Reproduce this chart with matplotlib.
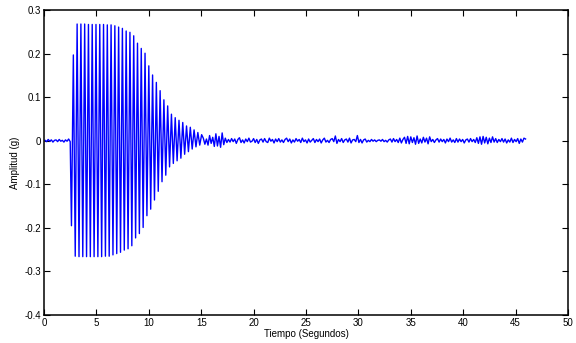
import numpy as np
import matplotlib
matplotlib.use("Agg")
import matplotlib.pyplot as plt

plt.rcParams['font.family'] = ['Liberation Sans', 'DejaVu Sans']

# small noise before the excitation (units of 0.001 g), one value every 0.15 s from t = 0.1
pre_start = 0.1
noise_dt = 0.15
pre_noise = [1, -2, 3, -1, 2, -3, 1, 2, -2, 3, -1, 1, -3, 2, -1, 4, -2]

# oscillation: one negative and one positive extreme per cycle (g)
cycle_start = 2.62
cycle_period = 0.36
neg_peaks = [-0.195, -0.265, -0.266, -0.266, -0.266, -0.266, -0.266, -0.266, -0.266,
             -0.265, -0.265, -0.262, -0.259, -0.256, -0.251, -0.248, -0.241, -0.223,
             -0.213, -0.199, -0.172, -0.157, -0.136, -0.116, -0.094, -0.079, -0.060,
             -0.052, -0.046, -0.040, -0.031, -0.025, -0.019, -0.014, -0.010]
pos_peaks = [0.197, 0.268, 0.268, 0.268, 0.267, 0.267, 0.267, 0.267, 0.267, 0.266,
             0.266, 0.264, 0.261, 0.258, 0.252, 0.249, 0.241, 0.224, 0.212, 0.201,
             0.172, 0.151, 0.134, 0.115, 0.094, 0.080, 0.061, 0.053, 0.047, 0.042,
             0.034, 0.031, 0.025, 0.019, 0.014]

# residual noise after the free vibration (units of 0.001 g), from t = 15.2
post_start = 15.2
post_noise = [6, -8, 4, -10, 12, -6, 8, -13, 16, -12, 10, -15, 18, -9, 6, -4, 3,
              -3, 5, -2, 4, -6, 3, 7, -4, 2, -5, 4, -2, 6, -3, -1, 5, -4, 3, -6, 2, 4,
              -3, 5, -2, -4, 6, -1, 3, -5, 4, -2, 5, -3, 2,
              -4, 3, 6, -2, 4, -5, 2, -3, 5, -1, 3, -4, 6, -2, 2, -5, 4, -3, 1, 5, -4,
              3, -2, 4, -5, 2, 6, -3, 1, -4, 3, 5, -2, 11,
              -6, 3, -2, 5, -4, 2, 4, -3, 6, -5, 2, 3, -2, 12, -4, 3, -5, 2, 4, -3, 1,
              -2, 3, -1, 2, -2, 1, 2, -1, 3, -2, 1, -3, 2,
              4, -3, 5, -2, 3, -4, 6, -5, 3, 8, -6, 10, -7, 9, -4, 7, -8, 11, -6, 4,
              -5, 8, -3, 6, -7, 9, -2, 3, -4, 2, 5, -3, 4, -2,
              3, -5, 4, -2, 6, -3, 2, -4, 5, -3, 4, -2, 3, -5, 2, 4, -3, 5, -2, 3, -4,
              7, -6, 9, -8, 10, -5, 8, -7, 6, -4, 9, -3, 5,
              -4, 3, -2, 5, -3, 4, -5, 2, -3, 6, -4, 3, -2, 5, -6, 4, -3, 6, 4]

x_ticks = [0, 5, 10, 15, 20, 25, 30, 35, 40, 45, 50]
y_ticks = [-0.4, -0.3, -0.2, -0.1, 0, 0.1, 0.2, 0.3]

# build the trace
t_pre = pre_start + noise_dt * np.arange(len(pre_noise))
a_pre = np.array(pre_noise) * 0.001

k = np.arange(len(neg_peaks))
t_osc = np.column_stack([cycle_start + cycle_period * k,
                         cycle_start + cycle_period * (k + 0.5)]).ravel()
a_osc = np.column_stack([neg_peaks, pos_peaks]).ravel()

t_post = post_start + noise_dt * np.arange(len(post_noise))
a_post = np.array(post_noise) * 0.001

t = np.concatenate([t_pre, t_osc, t_post])
a = np.concatenate([a_pre, a_osc, a_post])

fig = plt.figure(figsize=(5.76, 3.43), dpi=100)
ax = fig.add_axes([0.0764, 0.0816, 0.9097, 0.889])
ax.plot(t, a, color='#0000ff', linewidth=1.0)

ax.set_xlim(0, 50)
ax.set_ylim(-0.4, 0.3)
ax.set_xticks(x_ticks)
ax.set_xticklabels([str(v) for v in x_ticks])
ax.set_yticks(y_ticks)
ax.set_yticklabels(['-0.4', '-0.3', '-0.2', '-0.1', '0', '0.1', '0.2', '0.3'])
ax.tick_params(direction='in', length=4, width=0.8, top=True, right=True,
               labelsize=7, pad=2)
for s in ax.spines.values():
    s.set_linewidth(1.1)

ax.set_xlabel('Tiempo (Segundos)', fontsize=7, labelpad=1)
ax.set_ylabel('Amplitud (g)', fontsize=7, labelpad=3)

fig.savefig('out.png', dpi=100)
